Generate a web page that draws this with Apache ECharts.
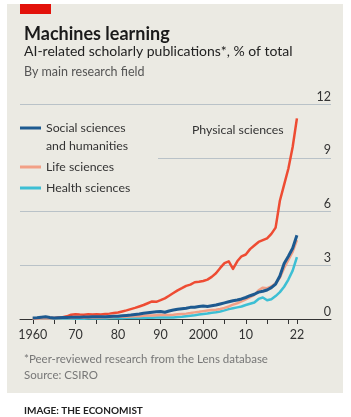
<!DOCTYPE html>
<html>
<head>
<meta charset="utf-8">
<script src="https://cdn.jsdelivr.net/npm/echarts@6/dist/echarts.min.js"></script>
<style>
  body { margin: 0; background: #fff; }
  #panel { position: absolute; left: 7px; top: 4px; width: 336px; height: 389px; background: #ebeae3; }
  #chart { position: absolute; left: 0; top: 0; width: 351px; height: 417px; }
</style>
</head>
<body>
<div id="panel"></div>
<div id="chart"></div>
<script>
  let years = []
  for (let y = 1960; y <= 2022; y++) years.push(y)

  let physical = [0.02, 0.03, 0.03, 0.05, 0.05, 0.06, 0.08, 0.1, 0.15, 0.24,
    0.27, 0.25, 0.24, 0.26, 0.25, 0.26, 0.25, 0.28, 0.3, 0.33,
    0.36, 0.42, 0.48, 0.55, 0.62, 0.7, 0.78, 0.88, 0.98, 0.96,
    1.05, 1.15, 1.3, 1.45, 1.6, 1.72, 1.85, 1.92, 2.05, 2.08,
    2.12, 2.2, 2.35, 2.55, 2.85, 3.12, 3.22, 2.8, 3.22, 3.5,
    3.6, 3.9, 4.1, 4.3, 4.4, 4.5, 4.75, 5.1, 6.6, 7.5,
    8.4, 9.6, 11.2]
  let social = [0.05, 0.07, 0.1, 0.12, 0.08, 0.06, 0.07, 0.08, 0.09, 0.1,
    0.1, 0.1, 0.11, 0.11, 0.12, 0.12, 0.12, 0.13, 0.14, 0.15,
    0.16, 0.18, 0.2, 0.22, 0.25, 0.28, 0.32, 0.35, 0.38, 0.4,
    0.42, 0.38, 0.45, 0.5, 0.54, 0.57, 0.6, 0.65, 0.66, 0.7,
    0.72, 0.7, 0.74, 0.78, 0.84, 0.9, 0.96, 1.02, 1.06, 1.12,
    1.2, 1.3, 1.38, 1.5, 1.55, 1.62, 1.75, 1.95, 2.4, 3.1,
    3.5, 3.95, 4.67]
  let life = [0.02, 0.02, 0.03, 0.03, 0.03, 0.04, 0.04, 0.05, 0.05, 0.06,
    0.07, 0.07, 0.07, 0.08, 0.08, 0.08, 0.09, 0.1, 0.1, 0.11,
    0.12, 0.12, 0.13, 0.14, 0.15, 0.16, 0.18, 0.19, 0.2, 0.21,
    0.22, 0.22, 0.23, 0.24, 0.26, 0.28, 0.3, 0.33, 0.37, 0.4,
    0.44, 0.48, 0.5, 0.52, 0.56, 0.62, 0.7, 0.8, 0.88, 0.98,
    1.1, 1.22, 1.35, 1.6, 1.75, 1.72, 1.82, 2.0, 2.3, 2.85,
    3.3, 3.75, 4.4]
  let health = [0.01, 0.01, 0.01, 0.01, 0.01, 0.01, 0.01, 0.02, 0.02, 0.02,
    0.02, 0.02, 0.02, 0.03, 0.03, 0.03, 0.03, 0.03, 0.04, 0.04,
    0.04, 0.04, 0.05, 0.05, 0.05, 0.06, 0.06, 0.07, 0.07, 0.08,
    0.08, 0.08, 0.09, 0.09, 0.11, 0.12, 0.15, 0.18, 0.21, 0.25,
    0.28, 0.31, 0.35, 0.38, 0.42, 0.48, 0.55, 0.6, 0.65, 0.7,
    0.78, 0.85, 0.92, 1.12, 1.2, 1.05, 1.1, 1.28, 1.5, 1.8,
    2.2, 2.7, 3.45]

  let xTicks = [1960, 1965, 1970, 1975, 1980, 1985, 1990, 1995, 2000, 2005, 2010, 2015, 2020, 2022]
  let xLabels = [1960, 1970, 1980, 1990, 2000, 2010, 2022]

  const font = 'Lato, "Noto Sans", sans-serif'
  const bg = '#ebeae3'

  function pairs(vals) {
    return vals.map((v, i) => [years[i], v])
  }

  function line(name, vals, color, width) {
    return {
      name: name,
      type: 'line',
      color: color,
      showSymbol: false,
      lineStyle: { width: width, color: color, join: 'round' },
      emphasis: { disabled: true },
      data: pairs(vals)
    }
  }

  let mychart = echarts.init(document.getElementById('chart'), null, { renderer: 'canvas' })
  let option = {
    animation: false,
    backgroundColor: 'transparent',
    textStyle: { fontFamily: font },
    title: [
      { text: 'Machines learning', left: 19, top: 20, textStyle: { fontFamily: font, fontSize: 18, fontWeight: 'bold', color: '#1a1a1a' } },
      { text: 'AI-related scholarly publications*, % of total', left: 19, top: 39, textStyle: { fontFamily: font, fontSize: 14, fontWeight: 'normal', color: '#222' } },
      { text: 'By main research field', left: 19, top: 60, textStyle: { fontFamily: font, fontSize: 12.5, fontWeight: 'normal', color: '#555' } },
      { text: '*Peer-reviewed research from the Lens database', left: 19, top: 348, textStyle: { fontFamily: font, fontSize: 11.5, fontWeight: 'normal', color: '#777' } },
      { text: 'Source: CSIRO', left: 19, top: 364, textStyle: { fontFamily: font, fontSize: 11.5, fontWeight: 'normal', color: '#777' } },
      { text: 'IMAGE: THE ECONOMIST', left: 19, top: 401, textStyle: { fontFamily: font, fontSize: 10, fontWeight: 'bold', color: '#222' } }
    ],
    graphic: [
      { type: 'rect', shape: { x: 20, y: 4, width: 31, height: 10 }, style: { fill: '#e3120b' }, z: 1 },
      // gap in the 9 gridline behind the legend
      { type: 'rect', shape: { x: 19, y: 154, width: 139, height: 8 }, style: { fill: bg }, z: 1 },
      { type: 'text', x: 46, y: 146, style: { text: 'and humanities', font: '12.3px ' + font, fill: '#333', verticalAlign: 'middle' }, z: 5 },
      { type: 'text', x: 192, y: 130, style: { text: 'Physical sciences', font: '12.3px ' + font, fill: '#333', verticalAlign: 'middle' }, z: 5 }
    ],
    legend: [
      {
        data: ['Social sciences and humanities'],
        left: 20,
        top: 119.5,
        padding: 0,
        icon: 'rect',
        itemWidth: 21,
        itemHeight: 3,
        selectedMode: false,
        formatter: () => 'Social sciences',
        textStyle: { color: '#333', fontSize: 12.3, lineHeight: 17 }
      },
      {
        data: ['Life sciences', 'Health sciences'],
        orient: 'vertical',
        left: 20,
        top: 158.5,
        padding: 0,
        itemGap: 4,
        icon: 'rect',
        itemWidth: 21,
        itemHeight: 3,
        selectedMode: false,
        textStyle: { color: '#333', fontSize: 12.3, lineHeight: 17 }
      }
    ],
    grid: { left: 20, right: 20, top: 104, bottom: 98, containLabel: false },
    xAxis: {
      type: 'value',
      min: 1957,
      max: 2030,
      axisLine: { lineStyle: { color: '#333', width: 1 } },
      axisTick: { customValues: xTicks, length: 5, lineStyle: { color: '#333' } },
      axisLabel: {
        customValues: xLabels,
        margin: 9,
        fontSize: 12.5,
        color: '#333',
        formatter: v => (v === 1960 || v === 2000) ? String(v) : String(v).slice(2)
      },
      splitLine: { show: false }
    },
    yAxis: {
      type: 'value',
      position: 'right',
      min: 0,
      max: 12,
      interval: 3,
      axisLine: { show: false },
      axisTick: { show: false },
      axisLabel: { inside: true, margin: 0, fontSize: 12.5, color: '#333', verticalAlign: 'bottom', padding: [0, 0, 1, 0] },
      splitLine: { lineStyle: { color: '#b9c2c8', width: 1 } }
    },
    series: [
      line('Physical sciences', physical, '#ee4c33', 2.5),
      line('Health sciences', health, '#3dbfd4', 2.5),
      line('Life sciences', life, '#f2a086', 2.5),
      line('Social sciences and humanities', social, '#1d5a90', 3)
    ]
  }
  mychart.setOption(option)
</script>
</body>
</html>
